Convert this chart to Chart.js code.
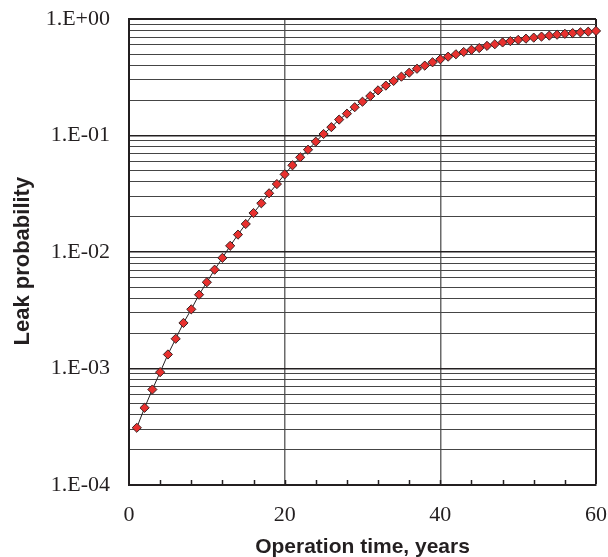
<!DOCTYPE html>
<html>
<head>
<meta charset="utf-8">
<script src="https://cdn.jsdelivr.net/npm/chart.js@4/dist/chart.umd.min.js"></script>
<style>
html,body{margin:0;padding:0;background:#fff;}
canvas{display:block;}
</style>
</head>
<body>
<canvas id="c" width="608" height="557"></canvas>
<script>
const years = [1,2,3,4,5,6,7,8,9,10,11,12,13,14,15,16,17,18,19,20,21,22,23,24,25,26,27,28,29,30,31,32,33,34,35,36,37,38,39,40,41,42,43,44,45,46,47,48,49,50,51,52,53,54,55,56,57,58,59,60];
const leakProbability = [
  0.00031, 0.00046, 0.00066, 0.00093, 0.00132, 0.00180, 0.00246, 0.00322, 0.0043, 0.0055,
  0.00705, 0.0089, 0.0113, 0.0141, 0.0174, 0.0216, 0.0262, 0.0319, 0.0383, 0.0464,
  0.0555, 0.065, 0.0755, 0.0885, 0.103, 0.118, 0.137, 0.154, 0.175, 0.195,
  0.218, 0.244, 0.268, 0.294, 0.320, 0.346, 0.374, 0.398, 0.425, 0.451,
  0.475, 0.498, 0.521, 0.544, 0.563, 0.588, 0.607, 0.629, 0.646, 0.662,
  0.678, 0.692, 0.706, 0.720, 0.733, 0.746, 0.757, 0.768, 0.778, 0.790
];
const xTickLabels = [0, 20, 40, 60];
const yDecades = [-4, -3, -2, -1, 0];
const xTitle = 'Operation time, years';
const yTitle = 'Leak probability';

const isDecade = v => Math.abs(Math.log10(v) - Math.round(Math.log10(v))) < 1e-9;
const fmtDecade = v => {
  const e = Math.round(Math.log10(v));
  const s = e < 0 ? '-' : '+';
  return '1.E' + s + String(Math.abs(e)).padStart(2, '0');
};

const innerTicks = {
  id: 'innerTicks',
  beforeDatasetsDraw(chart) {
    const ctx = chart.ctx, xs = chart.scales.x, area = chart.chartArea;
    ctx.save();
    ctx.strokeStyle = '#231f20';
    ctx.lineWidth = 1.5;
    xs.ticks.forEach(t => {
      if (t.value <= xs.min || t.value >= xs.max) return;
      const px = Math.round(xs.getPixelForValue(t.value)) + 0.5;
      ctx.beginPath();
      ctx.moveTo(px, area.bottom);
      ctx.lineTo(px, area.bottom - 5);
      ctx.stroke();
    });
    ctx.restore();
  }
};

new Chart(document.getElementById('c'), {
  type: 'line',
  data: {
    datasets: [{
      data: years.map((y, i) => ({x: y, y: leakProbability[i]})),
      borderColor: '#231f20',
      borderWidth: 1,
      backgroundColor: '#e8302e',
      pointBackgroundColor: '#e8302e',
      pointBorderColor: '#3a2222',
      pointBorderWidth: 1,
      pointStyle: 'rectRot',
      pointRadius: 4.6,
      tension: 0,
      clip: false
    }]
  },
  options: {
    responsive: false,
    animation: false,
    layout: {padding: {top: 19, right: 12, left: 0, bottom: 0}},
    plugins: {legend: {display: false}, tooltip: {enabled: false}},
    scales: {
      x: {
        type: 'linear',
        min: 0, max: 60,
        afterFit: s => { s.height = 72; s.paddingLeft = 0; s.paddingRight = 0; },
        ticks: {
          stepSize: 4,
          autoSkip: false,
          maxRotation: 0,
          padding: 17,
          color: '#231f20',
          font: {family: 'Liberation Serif', size: 22},
          callback: v => xTickLabels.includes(v) ? String(v) : ''
        },
        grid: {
          drawTicks: false,
          color: c => (c.tick && (c.tick.value === 20 || c.tick.value === 40)) ? '#6a6a6a' : (c.tick && c.tick.value === 60 ? '#231f20' : 'rgba(0,0,0,0)'),
          lineWidth: c => (c.tick && c.tick.value === 60) ? 2 : 1.5
        },
        border: {color: '#231f20', width: 2},
        title: {
          display: true, text: xTitle, color: '#231f20',
          font: {family: 'Liberation Sans', size: 21, weight: 'bold', lineHeight: 0.9},
          padding: {top: 0, bottom: 0}
        }
      },
      y: {
        type: 'logarithmic',
        min: 1e-4, max: 1,
        afterFit: s => { s.width = 129; s.paddingTop = 0; s.paddingBottom = 0; },
        afterBuildTicks: s => {
          const t = [];
          yDecades.forEach(e => {
            for (let m = 1; m <= 9; m++) {
              const v = Number((m * Math.pow(10, e)).toPrecision(3));
              if (v <= 1) t.push({value: v});
            }
          });
          s.ticks = t;
        },
        ticks: {
          autoSkip: false,
          padding: 19,
          color: '#231f20',
          font: {family: 'Liberation Serif', size: 22},
          callback: v => isDecade(v) ? fmtDecade(v) : ''
        },
        grid: {
          drawTicks: false,
          color: c => {
            if (!c.tick) return '#3a3a3a';
            if (c.tick.value <= 1e-4 + 1e-12) return 'rgba(0,0,0,0)';
            return isDecade(c.tick.value) ? '#231f20' : '#454545';
          },
          lineWidth: c => (c.tick && isDecade(c.tick.value)) ? (c.tick.value === 1 ? 2 : 1.6) : 1
        },
        border: {color: '#231f20', width: 2},
        title: {
          display: true, text: yTitle + '   ', color: '#231f20',
          font: {family: 'Liberation Sans', size: 22, weight: 'bold'},
          padding: {top: 10, bottom: 0}
        }
      }
    }
  },
  plugins: [innerTicks]
});
</script>
</body>
</html>
